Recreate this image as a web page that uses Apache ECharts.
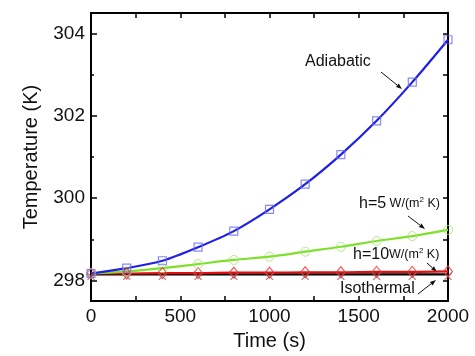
<!DOCTYPE html>
<html>
<head>
<meta charset="utf-8">
<script src="https://cdn.jsdelivr.net/npm/echarts@6/dist/echarts.min.js"></script>
<style>
  html, body { margin: 0; padding: 0; background: #fff; }
  #chart { width: 475px; height: 356px; }
</style>
</head>
<body>
<div id="chart"></div>
<script>
// time points (s)
const times = [0, 200, 400, 600, 800, 1000, 1200, 1400, 1600, 1800, 2000];
// temperatures (K)
const adiabatic = [298.17, 298.3, 298.48, 298.81, 299.2, 299.73, 300.34, 301.06, 301.88, 302.82, 303.85];
const h5 = [298.17, 298.22, 298.3, 298.4, 298.5, 298.58, 298.7, 298.82, 298.96, 299.08, 299.23];
const h10 = [298.17, 298.17, 298.18, 298.18, 298.19, 298.19, 298.2, 298.2, 298.21, 298.21, 298.22];
const isothermal = [298.15, 298.15, 298.15, 298.15, 298.15, 298.15, 298.15, 298.15, 298.15, 298.15, 298.15];
const yMajor = [298, 300, 302, 304];
const yMinor = [299, 301, 303];
const yAll = [298, 299, 300, 301, 302, 303, 304];

const pairs = vals => times.map((t, i) => [t, vals[i]]);

const chart = echarts.init(document.getElementById('chart'));

// little arrow for the annotations
function arrow(x1, y1, x2, y2) {
    const a = Math.atan2(y2 - y1, x2 - x1);
    const L = 6, W = 2.2;
    const bx = x2 - L * Math.cos(a), by = y2 - L * Math.sin(a);
    return {
        type: 'group',
        silent: true,
        children: [
            { type: 'line', shape: { x1: x1, y1: y1, x2: bx, y2: by }, style: { stroke: '#111', lineWidth: 1 } },
            { type: 'polygon', shape: { points: [[x2, y2], [bx + W * Math.sin(a), by - W * Math.cos(a)], [bx - W * Math.sin(a), by + W * Math.cos(a)]] }, style: { fill: '#111' } }
        ]
    };
}

const font = 'Liberation Sans, Arial, sans-serif';
const axisLine = { show: true, lineStyle: { color: '#000', width: 2 } };

const option = {
    animation: false,
    backgroundColor: '#fff',
    grid: { left: 91, top: 13, right: 27, bottom: 53 },
    xAxis: [
        {
            type: 'value', min: 0, max: 2000, interval: 250, position: 'bottom',
            name: 'Time (s)', nameLocation: 'middle', nameGap: 29,
            nameTextStyle: { fontFamily: font, fontSize: 20, color: '#111' },
            axisLine: axisLine,
            axisTick: { inside: true, length: 5, lineStyle: { color: '#000', width: 1.5 } },
            axisLabel: { margin: 6, fontFamily: font, fontSize: 19, color: '#111',
                formatter: v => (v % 500 === 0 ? String(v) : '') },
            splitLine: { show: false }
        },
        {
            type: 'value', min: 0, max: 2000, interval: 250, position: 'top',
            axisLine: axisLine,
            axisTick: { inside: true, length: 5, lineStyle: { color: '#000', width: 1.5 } },
            axisLabel: { show: false },
            splitLine: { show: false }
        }
    ],
    yAxis: [
        {
            type: 'value', min: 297.5, max: 304.5, position: 'left',
            name: 'Temperature (K)', nameLocation: 'middle', nameGap: 50,
            nameTextStyle: { fontFamily: font, fontSize: 20, color: '#111' },
            axisLine: axisLine,
            axisTick: { inside: true, length: 6, customValues: yMajor, lineStyle: { color: '#000', width: 1.5 } },
            axisLabel: { margin: 6, fontFamily: font, fontSize: 19, color: '#111', customValues: yMajor },
            splitLine: { show: false }
        },
        {
            type: 'value', min: 297.5, max: 304.5, position: 'left',
            axisLine: { show: false },
            axisTick: { inside: true, length: 3, customValues: yMinor, lineStyle: { color: '#000', width: 1.5 } },
            axisLabel: { show: false },
            splitLine: { show: false }
        },
        {
            type: 'value', min: 297.5, max: 304.5, position: 'right',
            axisLine: axisLine,
            axisTick: { inside: true, length: 5, customValues: yAll, lineStyle: { color: '#000', width: 1.5 } },
            axisLabel: { show: false },
            splitLine: { show: false }
        }
    ],
    series: [
        { name: 'Isothermal', type: 'line', data: pairs(isothermal), showSymbol: false,
          lineStyle: { color: '#000', width: 2.2 }, z: 2 },
        { name: 'h=10', type: 'line', data: pairs(h10), showSymbol: false, smooth: 0.3,
          lineStyle: { color: '#e01010', width: 2.2 }, z: 3 },
        { name: 'h=5', type: 'line', data: pairs(h5), showSymbol: false, smooth: 0.3,
          lineStyle: { color: '#7ee02c', width: 2.2 }, z: 3 },
        { name: 'Adiabatic', type: 'line', data: pairs(adiabatic), showSymbol: false, smooth: 0.3,
          lineStyle: { color: '#1f1fe8', width: 2.2 }, z: 4 },

        { type: 'scatter', data: pairs(isothermal), symbol: 'path://M0,0L10,10M10,0L0,10', symbolSize: 7,
          symbolOffset: [0, 2],
          itemStyle: { color: 'none', borderColor: '#a05a5a', borderWidth: 1.2 }, z: 5 },
        { type: 'scatter', data: pairs(h10), symbol: 'diamond', symbolSize: [9, 11],
          itemStyle: { color: 'rgba(255,255,255,0)', borderColor: '#f03030', borderWidth: 1.2 }, z: 6 },
        { type: 'scatter', data: pairs(h5), symbol: 'circle', symbolSize: 9,
          itemStyle: { color: 'rgba(255,255,255,0)', borderColor: '#9ee86a', borderWidth: 1 }, z: 6 },
        { type: 'scatter', data: pairs(adiabatic), symbol: 'rect', symbolSize: 8,
          itemStyle: { color: 'rgba(255,255,255,0)', borderColor: '#6c6cf5', borderWidth: 1.2 }, z: 6 }
    ],
    graphic: [
        { type: 'text', left: 305, top: 54, style: { text: 'Adiabatic', font: '16px ' + font, fill: '#111' } },
        arrow(381, 72, 402, 89),
        { type: 'text', left: 359, top: 196, style: {
            text: '{a|h=5}{b| W/(m}{s|2}{b| K)}',
            rich: {
                a: { fontFamily: font, fontSize: 16, fill: '#111' },
                b: { fontFamily: font, fontSize: 12.5, fill: '#111' },
                s: { fontFamily: font, fontSize: 8, fill: '#111', verticalAlign: 'top', padding: [0, 0, 8, 0] }
            } } },
        arrow(408, 216, 425, 229),
        { type: 'text', left: 353, top: 247, style: {
            text: '{a|h=10}{b|W/(m}{s|2}{b| K)}',
            rich: {
                a: { fontFamily: font, fontSize: 16, fill: '#111' },
                b: { fontFamily: font, fontSize: 12.5, fill: '#111' },
                s: { fontFamily: font, fontSize: 8, fill: '#111', verticalAlign: 'top', padding: [0, 0, 8, 0] }
            } } },
        arrow(427, 263, 437, 272),
        { type: 'text', left: 340, top: 281, style: { text: 'Isothermal', font: '16px ' + font, fill: '#111' } },
        arrow(418, 294, 436, 280)
    ]
};

chart.setOption(option);
</script>
</body>
</html>
